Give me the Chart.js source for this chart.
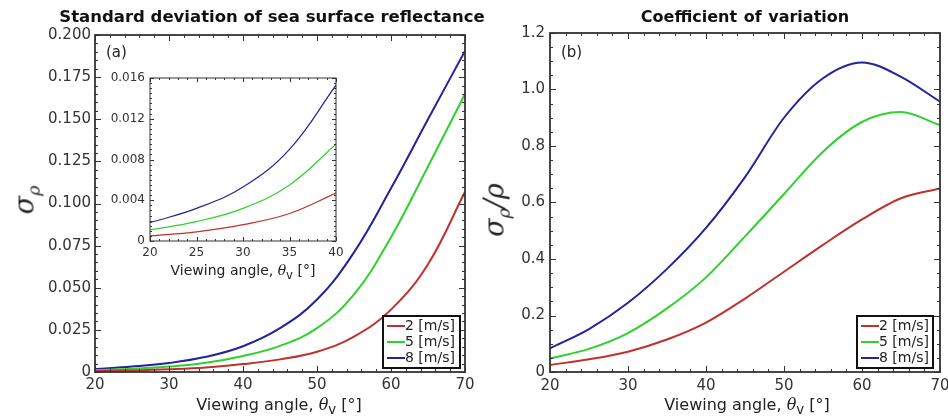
<!DOCTYPE html>
<html>
<head>
<meta charset="utf-8">
<script src="https://cdn.jsdelivr.net/npm/chart.js@4.4.1/dist/chart.umd.min.js"></script>
<style>
  body { margin: 0; background: #fff; }
  #wrap { position: relative; width: 948px; height: 419px; font-family: "DejaVu Sans", Verdana, sans-serif; color: #222; }
  canvas { position: absolute; }
  .lbl { position: absolute; white-space: nowrap; line-height: 1; }
  .ttl { font-weight: bold; color: #111; transform: translate(-50%, -50%); }
  .xt { font-size: 16px; transform: translateX(-50%); }
  .xt i { font-family: "DejaVu Serif", serif; }
  .yt { font-family: "DejaVu Serif", serif; font-style: italic; font-size: 27px; transform: translate(-50%, -50%) rotate(-90deg); }
  .yt sub { font-size: 65%; }
  .pl { font-size: 15px; }
</style>
</head>
<body>
<div id="wrap">
  <canvas id="left" width="474" height="419" style="left:0;top:0"></canvas>
  <canvas id="inset" width="264" height="215" style="left:90px;top:70px"></canvas>
  <canvas id="right" width="474" height="419" style="left:474px;top:0"></canvas>

  <div class="lbl ttl" style="left:272px;top:17px;font-size:16.5px">Standard deviation of sea surface reflectance</div>
  <div class="lbl ttl" style="left:745px;top:17px;font-size:16px;word-spacing:1px">Coefficient of variation</div>
  <div class="lbl yt" style="left:27px;top:200px">σ<sub>ρ</sub></div>
  <div class="lbl yt" style="left:497px;top:210px">σ<sub>ρ</sub>/ρ</div>
  <div class="lbl xt" style="left:279px;top:397px">Viewing angle, <i>θ</i><sub>v</sub> [°]</div>
  <div class="lbl xt" style="left:747px;top:397px">Viewing angle, <i>θ</i><sub>v</sub> [°]</div>
  <div class="lbl xt" style="left:243px;top:263px;font-size:14px">Viewing angle, <i>θ</i><sub>v</sub> [°]</div>
  <div class="lbl pl" style="left:106px;top:45px">(a)</div>
  <div class="lbl pl" style="left:561px;top:45px">(b)</div>
</div>

<script>
// Değerler (her 5 derecede bir)
const angles = [20, 25, 30, 35, 40, 45, 50, 55, 60, 65, 70];
const windLabels = ['2 [m/s]', '5 [m/s]', '8 [m/s]'];
const colors = ['#c0302c', '#2ed12e', '#23239a'];

// (a) yansıma standart sapması
const sigma2 = [0.0005, 0.0009, 0.0016, 0.0027, 0.0047, 0.0075, 0.012, 0.021, 0.037, 0.064, 0.107];
const sigma5 = [0.0011, 0.0019, 0.0032, 0.0055, 0.0095, 0.0155, 0.026, 0.046, 0.080, 0.122, 0.165];
const sigma8 = [0.0018, 0.0032, 0.0053, 0.0090, 0.0153, 0.026, 0.043, 0.071, 0.109, 0.150, 0.1905];

// (b) değişim katsayısı
const cov2 = [0.025, 0.045, 0.072, 0.115, 0.175, 0.26, 0.355, 0.45, 0.54, 0.615, 0.65];
const cov5 = [0.048, 0.082, 0.138, 0.225, 0.335, 0.48, 0.63, 0.78, 0.885, 0.92, 0.874];
const cov8 = [0.084, 0.152, 0.245, 0.365, 0.51, 0.69, 0.90, 1.04, 1.096, 1.045, 0.957];

const insetMaxAngle = 40;

// Çerçeve ve içe dönük tik çizgileri
const frameTicks = {
  id: 'frameTicks',
  afterDatasetsDraw(chart, args, o) {
    const { ctx, chartArea: a, scales: { x, y } } = chart;
    ctx.save();
    ctx.strokeStyle = '#333';
    ctx.lineWidth = 1;
    const tick = (scale, step, len) => {
      const n = Math.round((scale.max - scale.min) / step);
      for (let i = 0; i <= n; i++) {
        const p = Math.round(scale.getPixelForValue(scale.min + i * step)) + 0.5;
        ctx.beginPath();
        if (scale.isHorizontal()) {
          ctx.moveTo(p, a.bottom); ctx.lineTo(p, a.bottom - len);
          ctx.moveTo(p, a.top); ctx.lineTo(p, a.top + len);
        } else {
          ctx.moveTo(a.left, p); ctx.lineTo(a.left + len, p);
          ctx.moveTo(a.right, p); ctx.lineTo(a.right - len, p);
        }
        ctx.stroke();
      }
    };
    tick(x, o.xMinor, o.minor);
    tick(x, o.xMajor, o.major);
    tick(y, o.yMinor, o.minor);
    tick(y, o.yMajor, o.major);
    ctx.lineWidth = o.border;
    ctx.strokeRect(a.left, a.top, a.width, a.height);
    ctx.restore();
  }
};

// Kutulu lejant (sağ alt köşe)
const boxLegend = {
  id: 'boxLegend',
  afterDraw(chart, args, o) {
    if (!o.show) return;
    const { ctx, chartArea: a } = chart;
    const x0 = a.right - o.right - o.width;
    const y0 = a.bottom - o.bottom - o.height;
    ctx.save();
    ctx.fillStyle = '#fff';
    ctx.fillRect(x0, y0, o.width, o.height);
    ctx.strokeStyle = '#111';
    ctx.lineWidth = 2;
    ctx.strokeRect(x0, y0, o.width, o.height);
    ctx.font = '14px "DejaVu Sans"';
    ctx.textBaseline = 'middle';
    chart.data.datasets.forEach((ds, i) => {
      const yy = y0 + 10 + i * 16;
      ctx.strokeStyle = ds.borderColor;
      ctx.lineWidth = 2;
      ctx.beginPath();
      ctx.moveTo(x0 + 4, yy);
      ctx.lineTo(x0 + 22, yy);
      ctx.stroke();
      ctx.fillStyle = '#222';
      ctx.fillText(ds.label, x0 + 22, yy);
    });
    ctx.restore();
  }
};

Chart.register(frameTicks, boxLegend);

function makeSets(series, maxAngle, width, smooth) {
  return series.map((vals, i) => ({
    label: windLabels[i],
    data: angles.map((a, j) => ({ x: a, y: vals[j] })).filter(p => p.x <= maxAngle),
    borderColor: colors[i],
    borderWidth: width,
    pointRadius: 0,
    tension: 0.4,
    cubicInterpolationMode: smooth,
    fill: false
  }));
}

// Eksen kutusunun boyutunu sabitle (etiket taşması için eklenen boşlukları kaldır)
function fixBox(s, size) {
  if (s.isHorizontal()) s.height = size; else s.width = size;
  s.paddingLeft = 0; s.paddingRight = 0; s.paddingTop = 0; s.paddingBottom = 0;
}

function makeChart(id, cfg) {
  return new Chart(document.getElementById(id), {
    type: 'line',
    data: { datasets: makeSets(cfg.series, cfg.maxAngle, cfg.lineWidth, cfg.smooth) },
    options: {
      responsive: false,
      animation: false,
      layout: { padding: cfg.padding },
      plugins: {
        legend: { display: false },
        tooltip: { enabled: false },
        title: { display: false },
        frameTicks: cfg.frame,
        boxLegend: cfg.legend
      },
      scales: {
        x: {
          type: 'linear',
          min: cfg.x[0], max: cfg.x[1],
          grid: { display: false, drawTicks: false },
          border: { display: false },
          ticks: { stepSize: cfg.x[2], color: '#333', padding: cfg.tickPad, maxRotation: 0,
                   font: { family: 'DejaVu Sans', size: cfg.fontSize } },
          afterFit: s => fixBox(s, cfg.xHeight)
        },
        y: {
          min: cfg.y[0], max: cfg.y[1],
          grid: { display: false, drawTicks: false },
          border: { display: false },
          ticks: { stepSize: cfg.y[2], color: '#333', padding: cfg.tickPad,
                   font: { family: 'DejaVu Sans', size: cfg.fontSize },
                   callback: v => v === 0 ? '0' : v.toFixed(cfg.decimals) },
          afterFit: s => fixBox(s, cfg.yWidth)
        }
      }
    }
  });
}

makeChart('left', {
  series: [sigma2, sigma5, sigma8], maxAngle: 70, lineWidth: 2, smooth: 'default',
  padding: { left: 0, right: 9, top: 35, bottom: 0 },
  x: [20, 70, 10], y: [0, 0.2, 0.025], decimals: 3, fontSize: 15, tickPad: 4,
  xHeight: 47, yWidth: 95,
  frame: { xMajor: 10, xMinor: 2, yMajor: 0.025, yMinor: 0.005, major: 6, minor: 3, border: 1.8 },
  legend: { show: true, width: 77, height: 52, right: 5, bottom: 4 }
});

makeChart('inset', {
  series: [sigma2, sigma5, sigma8], maxAngle: insetMaxAngle, lineWidth: 1.2, smooth: 'default',
  padding: { left: 0, right: 18, top: 8, bottom: 0 },
  x: [20, 40, 5], y: [0, 0.016, 0.004], decimals: 3, fontSize: 12, tickPad: 5,
  xHeight: 44, yWidth: 60,
  frame: { xMajor: 5, xMinor: 1, yMajor: 0.004, yMinor: 0.0005, major: 4, minor: 2, border: 1 },
  legend: { show: false }
});

makeChart('right', {
  series: [cov2, cov5, cov8], maxAngle: 70, lineWidth: 2, smooth: 'monotone',
  padding: { left: 0, right: 8, top: 33, bottom: 0 },
  x: [20, 70, 10], y: [0, 1.2, 0.2], decimals: 1, fontSize: 15, tickPad: 5,
  xHeight: 47, yWidth: 76,
  frame: { xMajor: 10, xMinor: 2, yMajor: 0.2, yMinor: 0.05, major: 6, minor: 3, border: 1.8 },
  legend: { show: true, width: 76, height: 52, right: 7, bottom: 4 }
});
</script>
</body>
</html>
